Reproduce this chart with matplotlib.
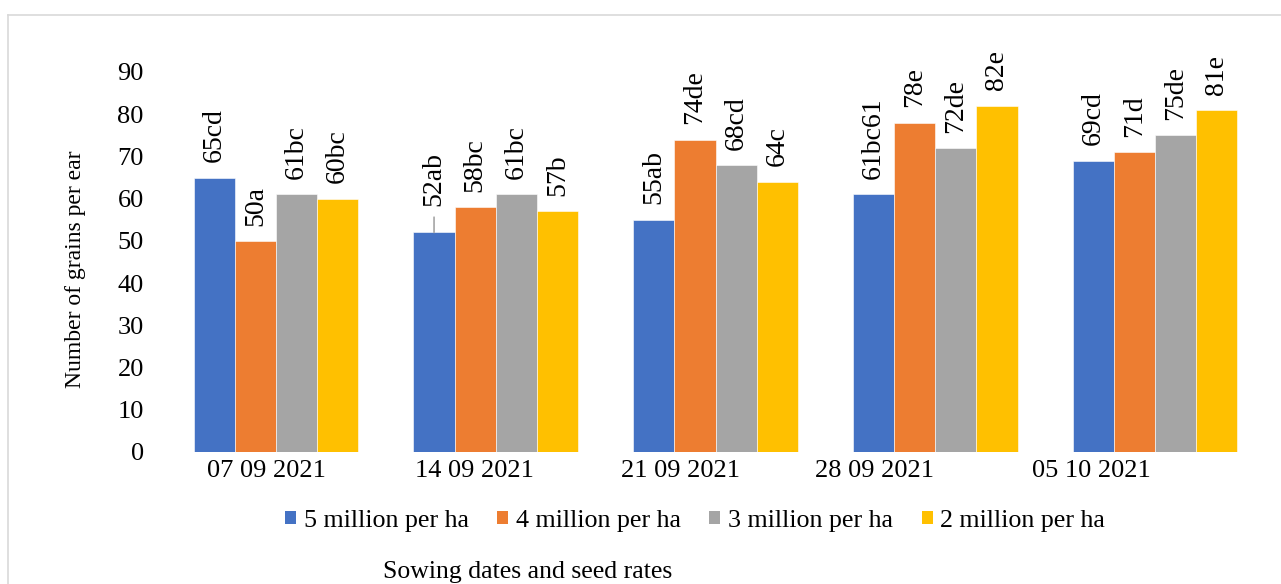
import numpy as np
import matplotlib.pyplot as plt
from matplotlib.patches import Patch
from matplotlib.lines import Line2D
import matplotlib.transforms as mtransforms

plt.rcParams['font.family'] = ['Liberation Serif', 'DejaVu Serif']

# Sowing dates and grains per ear for each seed rate
dates = ['07 09 2021', '14 09 2021', '21 09 2021', '28 09 2021', '05 10 2021']
rates = ['5 million per ha', '4 million per ha', '3 million per ha', '2 million per ha']
rate_5 = [65, 52, 55, 61, 69]
rate_4 = [50, 58, 74, 78, 71]
rate_3 = [61, 61, 68, 72, 75]
rate_2 = [60, 57, 64, 82, 81]
labels_5 = ['65cd', '52ab', '55ab', '61bc61', '69cd']
labels_4 = ['50a', '58bc', '74de', '78e', '71d']
labels_3 = ['61bc', '61bc', '68cd', '72de', '75de']
labels_2 = ['60bc', '57b', '64c', '82e', '81e']

series = [rate_5, rate_4, rate_3, rate_2]
series_labels = [labels_5, labels_4, labels_3, labels_2]
colors = ['#4472C4', '#ED7D31', '#A5A5A5', '#FFC000']

W, H = 1281, 584
fig = plt.figure(figsize=(W / 100, H / 100), dpi=100)
ax = fig.add_axes([166 / W, 1 - 452 / H, 1099 / W, 380 / H])

x = np.arange(len(dates))
bw = 0.187
for i, (vals, labs, c) in enumerate(zip(series, series_labels, colors)):
    xs = x + (i - 1.5) * bw
    ax.bar(xs, vals, bw, color=c, edgecolor='white', linewidth=0.4)
    for xi, v, lab in zip(xs, vals, labs):
        if lab == '52ab':
            # this one sits higher, with a leader line down to the bar
            ax.annotate(lab, (xi, v), xytext=(0, 19), textcoords='offset points',
                        rotation=90, ha='center', va='bottom', fontsize=20,
                        arrowprops=dict(arrowstyle='-', color='#a6a6a6', lw=1.2,
                                        shrinkA=6, shrinkB=0))
        else:
            ax.annotate(lab, (xi, v), xytext=(0, 11), textcoords='offset points',
                        rotation=90, ha='center', va='bottom', fontsize=20)

ax.set_xlim(-0.5, len(dates) - 0.5)
ax.set_ylim(0, 90)
ax.set_yticks(np.arange(0, 91, 10))
ax.set_xticks(x)
ax.set_xticklabels(dates, fontsize=19)
ax.tick_params(axis='y', length=0, pad=16, labelsize=19)
ax.tick_params(axis='x', length=0, pad=6)
for s in ax.spines.values():
    s.set_visible(False)

# date labels drift left of their groups
shifts = [-9, -21, -35, -61, -64]
for lab, dx in zip(ax.get_xticklabels(), shifts):
    lab.set_transform(lab.get_transform() +
                      mtransforms.ScaledTranslation(dx / 100, 0, fig.dpi_scale_trans))

ax.set_ylabel('Number of grains per ear', fontsize=17)
ax.yaxis.set_label_coords(-0.073, 0.48)

handles = [Patch(facecolor=c) for c in colors]
fig.legend(handles, rates, loc='center', bbox_to_anchor=(695 / W, 1 - 521 / H),
           ncol=4, frameon=False, fontsize=18.7, handlelength=0.42, handleheight=0.42,
           handletextpad=0.3, columnspacing=1.1)

fig.text(528 / W, 1 - 572 / H, 'Sowing dates and seed rates', ha='center', va='center',
         fontsize=18.5)

# light frame around the chart area
frame = '#d9d9d9'
fig.add_artist(Line2D([8 / W, 8 / W], [0, 1 - 15 / H], color=frame, lw=1.2))
fig.add_artist(Line2D([8 / W, 1], [1 - 15 / H, 1 - 15 / H], color=frame, lw=1.2))

fig.savefig('out.png', dpi=100)
